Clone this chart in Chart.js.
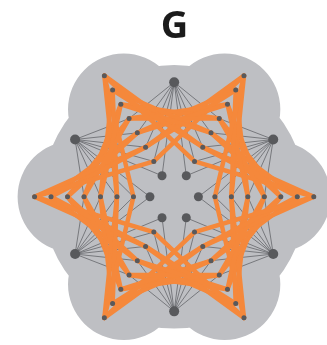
<!DOCTYPE html>
<html>
<head>
<meta charset="utf-8">
<script src="https://cdn.jsdelivr.net/npm/chart.js@4"></script>
<style>
  html, body { margin: 0; padding: 0; background: #fff; overflow: hidden; }
  #wrap { position: relative; width: 327px; height: 345px; }
  #title {
    position: absolute; left: 0; top: 4px; width: 349px;
    text-align: center; font: bold 38px 'Open Sans', sans-serif;
    line-height: 1; color: #1b1b1b;
  }
</style>
</head>
<body>
<div id="wrap">
  <canvas id="graph" width="327" height="345"></canvas>
  <div id="title">G</div>
</div>
<script>
// graph layout (polar: angle in degrees, radius in layout units)
const armAngles = [0, 60, 120, 180, 240, 300];
const armRadii = [42, 59, 76, 93, 110, 127, 144];
const hubAngles = [30, 90, 150, 210, 270, 330];
const hubRadius = 118;
const innerAngles = [0, 60, 120, 180, 240, 300];
const innerRadius = 25;
// orange edges join node i on an arm to node j on the next arm when i + j is one of these
const pairSums = [6, 7];
// hub edges reach these node indices on both neighbouring arms
const hubReach = [0, 1, 2, 3];

// background blob
const blobCore = 136;
const lobeDist = 104;
const lobeRadius = 57.5;

const orange = '#f5883b';
const nodeGray = '#58595c';
const edgeGray = 'rgba(85, 86, 90, 0.85)';
const blobColor = '#bebfc3';

function polar(angle, r) {
    const a = angle * Math.PI / 180;
    return { x: r * Math.cos(a), y: r * Math.sin(a) };
}

const armNodes = armAngles.map(a => armRadii.map(r => polar(a, r)));
const hubNodes = hubAngles.map(a => polar(a, hubRadius));
const innerNodes = innerAngles.map(a => polar(a, innerRadius));

const datasets = [];

function grayEdge(p, q) {
    datasets.push({
        data: [p, q],
        showLine: true, borderColor: edgeGray, borderWidth: 0.8,
        pointRadius: 0, order: 3
    });
}

// gray edges: hubs to the inner part of the two neighbouring arms
hubNodes.forEach((hub, j) => {
    [j, (j + 1) % 6].forEach(arm => {
        hubReach.forEach(i => grayEdge(hub, armNodes[arm][i]));
    });
});

// gray edges: inner nodes to the two neighbouring hubs
innerNodes.forEach((node, j) => {
    [(j + 5) % 6, j].forEach(h => grayEdge(node, hubNodes[h]));
});

// orange edges between neighbouring arms
const n = armRadii.length;
for (let a = 0; a < 6; a++) {
    const b = (a + 1) % 6;
    pairSums.forEach(s => {
        for (let i = 0; i < n; i++) {
            const j = s - i;
            if (j < 0 || j >= n) continue;
            datasets.push({
                data: [armNodes[a][i], armNodes[b][j]],
                showLine: true, borderColor: orange, borderWidth: 4.5,
                borderCapStyle: 'round', borderJoinStyle: 'round',
                pointRadius: 0, order: 2
            });
        }
    });
}

// nodes
datasets.push({
    data: armNodes.flat(),
    backgroundColor: nodeGray, borderWidth: 0, pointRadius: 2.5, order: 1
});
datasets.push({
    data: hubNodes,
    backgroundColor: nodeGray, borderWidth: 0, pointRadius: 5, order: 0
});
datasets.push({
    data: innerNodes,
    backgroundColor: nodeGray, borderWidth: 0, pointRadius: 4.5, order: 0
});

const blobPlugin = {
    id: 'blob',
    beforeDatasetsDraw(chart) {
        const ctx = chart.ctx;
        const xs = chart.scales.x, ys = chart.scales.y;
        const k = xs.getPixelForValue(1) - xs.getPixelForValue(0);
        const cx = xs.getPixelForValue(0), cy = ys.getPixelForValue(0);
        ctx.save();
        ctx.fillStyle = blobColor;
        ctx.beginPath();
        ctx.arc(cx, cy, blobCore * k, 0, Math.PI * 2);
        armAngles.forEach(a => {
            const p = polar(a, lobeDist);
            const px = xs.getPixelForValue(p.x), py = ys.getPixelForValue(p.y);
            ctx.moveTo(px + lobeRadius * k, py);
            ctx.arc(px, py, lobeRadius * k, 0, Math.PI * 2);
        });
        ctx.fill();
        ctx.restore();
    }
};

new Chart(document.getElementById('graph'), {
    type: 'scatter',
    data: { datasets: datasets },
    options: {
        responsive: false,
        animation: false,
        layout: { padding: 0 },
        plugins: { legend: { display: false }, tooltip: { enabled: false } },
        scales: {
            x: { type: 'linear', min: -174.5, max: 152.5, display: false },
            y: { type: 'linear', min: -147.5, max: 197.5, display: false }
        }
    },
    plugins: [blobPlugin]
});
</script>
</body>
</html>
